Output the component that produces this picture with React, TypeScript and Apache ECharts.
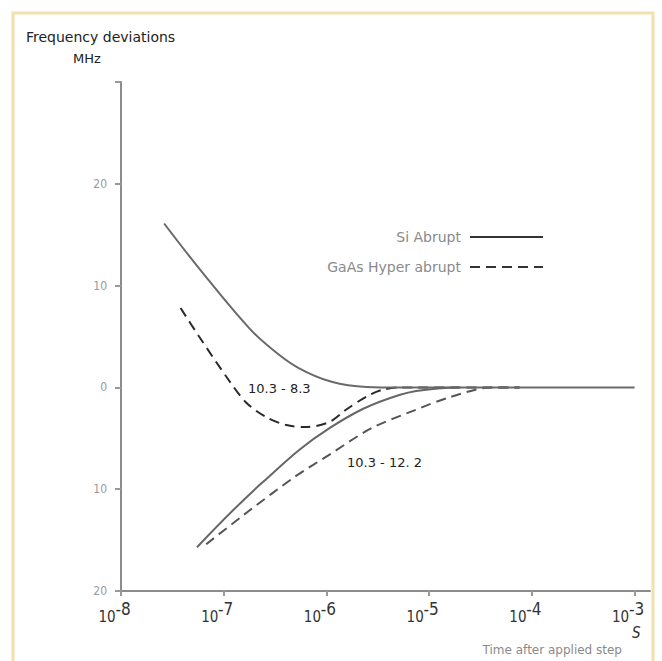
import React, { useEffect, useRef } from "react";
import * as echarts from "echarts";

// time after applied step, as log10(seconds)
const siUpperLogT = [-7.58, -7.24, -6.75, -6.51, -6.27, -5.95, -5.61, -5.29, -3.0];
const siUpperMHz = [16.1, 11.7, 5.8, 3.6, 1.9, 0.55, 0.05, 0, 0];

const siLowerLogT = [-7.26, -6.63, -5.97, -5.29, -4.71];
const siLowerMHz = [-15.7, -9.4, -4.0, -0.74, 0];

const gaasUpperLogT = [-7.42, -7.24, -6.95, -6.78, -6.59, -6.39, -6.2, -5.97, -5.81, -5.61, -5.46, -5.29, -4.12];
const gaasUpperMHz = [7.8, 5.0, 0.7, -1.5, -2.9, -3.7, -3.9, -3.4, -2.2, -0.9, -0.25, 0, 0];

const gaasLowerLogT = [-7.17, -6.75, -6.31, -5.97, -5.56, -5.13, -4.81, -4.39, -4.12];
const gaasLowerMHz = [-15.4, -12.1, -8.8, -6.6, -4.0, -2.2, -1.0, 0, 0];

const xTickExponents = [-8, -7, -6, -5, -4, -3];
const yTicks = [-20, -10, 0, 10, 20, 30];
const legendNames = ["Si Abrupt", "GaAs Hyper abrupt"];
const annotations = ["10.3 - 8.3", "10.3 - 12. 2"];

const zip = (a: number[], b: number[]) => a.map((v, i) => [v, b[i]]);

export default function App() {
  const ref = useRef<HTMLDivElement>(null);
  useEffect(() => {
    if (!ref.current) return;
    const chart = echarts.init(ref.current, null, { renderer: "svg" });
    const narrow = "'Liberation Sans Narrow', 'DejaVu Sans Condensed', sans-serif";
    const lineBase = { type: "line", symbol: "none", showSymbol: false, smooth: 0.3, silent: true };
    const xBase = {
      type: "value",
      min: -8,
      max: -2.85,
      interval: 1,
      position: "bottom",
      splitLine: { show: false },
    };
    chart.setOption({
      animation: false,
      backgroundColor: "#ffffff",
      grid: { left: 121, right: 12, top: 82, bottom: 70, containLabel: false },
      legend: {
        data: legendNames,
        orient: "vertical",
        align: "right",
        right: 113,
        top: 225,
        itemWidth: 73,
        itemHeight: 14,
        itemGap: 16,
        selectedMode: false,
        itemStyle: { opacity: 0 },
        lineStyle: { color: "#333", width: 2 },
        textStyle: {
          fontFamily: "'DejaVu Sans', sans-serif",
          fontSize: 14,
          color: "#8a8a8a",
          padding: [0, 4, 0, 0],
        },
      },
      xAxis: [
        {
          ...xBase,
          axisLine: { onZero: false, lineStyle: { color: "#8c8c8c", width: 2 } },
          axisTick: { show: true, length: 5, customValues: xTickExponents, lineStyle: { color: "#999", width: 2 } },
          axisLabel: {
            customValues: xTickExponents,
            margin: 18,
            fontFamily: narrow,
            fontSize: 15,
            color: "#333",
            padding: [0, 28, 0, 0],
            formatter: (v: number) => (Number.isInteger(v) ? "10" : ""),
          },
        },
        {
          ...xBase,
          axisLine: { show: false, onZero: false },
          axisTick: { show: false },
          axisLabel: {
            customValues: xTickExponents,
            margin: 9,
            fontFamily: narrow,
            fontSize: 17,
            color: "#333",
            padding: [0, 0, 0, 4],
            formatter: (v: number) => (Number.isInteger(v) ? `-${Math.abs(v)}` : ""),
          },
        },
      ],
      yAxis: {
        type: "value",
        min: -20,
        max: 30,
        interval: 10,
        axisLine: { show: true, onZero: false, lineStyle: { color: "#8c8c8c", width: 2 } },
        axisTick: { show: true, length: 6, lineStyle: { color: "#999", width: 2 } },
        splitLine: { show: false },
        axisLabel: {
          margin: 14,
          fontFamily: narrow,
          fontSize: 12,
          color: "#9a9a9a",
          formatter: (v: number) => (v === yTicks[yTicks.length - 1] ? "" : String(Math.abs(v))),
        },
      },
      series: [
        {
          ...lineBase,
          name: legendNames[0],
          data: zip(siUpperLogT, siUpperMHz),
          smooth: 0.4,
          itemStyle: { color: "#333" },
          lineStyle: { color: "#6a6a6a", width: 2 },
          z: 3,
        },
        {
          ...lineBase,
          name: legendNames[0],
          data: zip(siLowerLogT, siLowerMHz),
          smooth: 0.4,
          itemStyle: { color: "#333" },
          lineStyle: { color: "#666", width: 2 },
          z: 3,
        },
        {
          ...lineBase,
          name: legendNames[1],
          data: zip(gaasUpperLogT, gaasUpperMHz),
          itemStyle: { color: "#333" },
          lineStyle: { color: "#2a2a2a", width: 2, type: [10, 6] },
          z: 2,
        },
        {
          ...lineBase,
          name: legendNames[1],
          data: zip(gaasLowerLogT, gaasLowerMHz),
          itemStyle: { color: "#333" },
          lineStyle: { color: "#555", width: 2, type: [10, 6] },
          z: 2,
        },
      ],
      graphic: [
        {
          type: "rect",
          shape: { x: 13, y: 13, width: 640, height: 660 },
          style: { fill: "none", stroke: "#efe2ad", lineWidth: 3 },
          silent: true,
        },
        {
          type: "text",
          x: 26,
          y: 37,
          style: {
            text: "Frequency deviations",
            fontFamily: "'DejaVu Sans', sans-serif",
            fontSize: 14,
            fill: "#222",
            verticalAlign: "middle",
          },
        },
        {
          type: "text",
          x: 73,
          y: 58,
          style: {
            text: "MHz",
            fontFamily: "'DejaVu Sans', sans-serif",
            fontSize: 13,
            fill: "#222",
            verticalAlign: "middle",
          },
        },
        {
          type: "text",
          x: 248,
          y: 388,
          style: {
            text: annotations[0],
            fontFamily: "'DejaVu Sans', sans-serif",
            fontSize: 13,
            fill: "#222",
            verticalAlign: "middle",
          },
        },
        {
          type: "text",
          x: 347,
          y: 462,
          style: {
            text: annotations[1],
            fontFamily: "'DejaVu Sans', sans-serif",
            fontSize: 13,
            fill: "#222",
            verticalAlign: "middle",
          },
        },
        {
          type: "text",
          x: 632,
          y: 633,
          style: {
            text: "S",
            fontFamily: narrow,
            fontSize: 15,
            fontStyle: "italic",
            fill: "#333",
            verticalAlign: "middle",
          },
        },
        {
          type: "text",
          x: 622,
          y: 650,
          style: {
            text: "Time after applied step",
            fontFamily: "'DejaVu Sans', sans-serif",
            fontSize: 12,
            fill: "#8a8a8a",
            align: "right",
            verticalAlign: "middle",
          },
        },
      ],
    });
    return () => chart.dispose();
  }, []);
  return <div ref={ref} style={{ position: "fixed", left: 0, top: 0, width: 662, height: 661, background: "#fff" }} />;
}
